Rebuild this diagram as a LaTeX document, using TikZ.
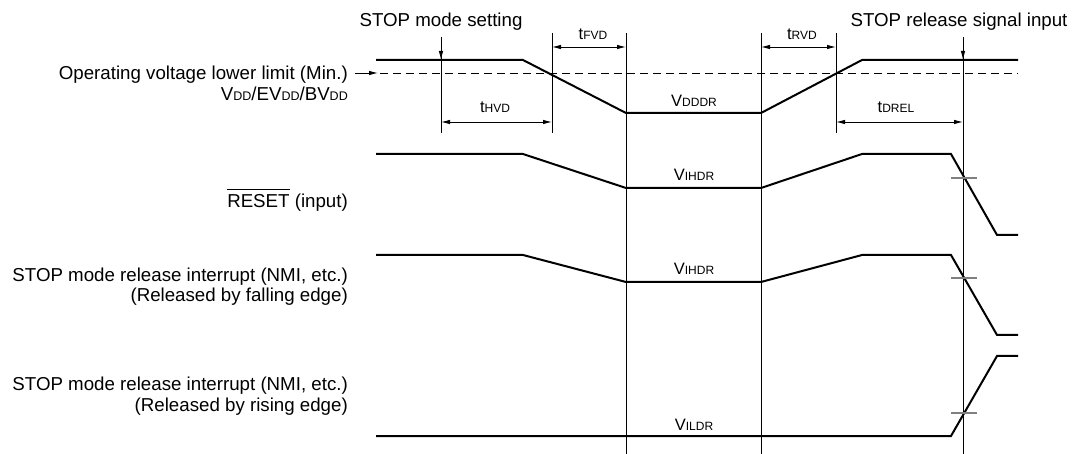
\documentclass[tikz,border=0pt]{standalone}
\usepackage{fontspec}
\setmainfont{Liberation Sans}
\usetikzlibrary{arrows.meta}

\newcommand{\msub}[1]{{\fontsize{12.5}{12.5}\selectfont #1}}
\newcommand{\vsub}[1]{{\fontsize{12}{12}\selectfont #1}}
\newcommand{\ovbar}[1]{\vbox{\hrule height 0.8pt\kern 5pt\hbox{#1}}}

\tikzset{
  sig/.style={line width=2pt},
  guide/.style={line width=0.9pt},
  dimarrow/.style={line width=0.9pt,{Latex[length=9pt,width=4.5pt]}-{Latex[length=9pt,width=4.5pt]}},
  arr/.style={line width=0.9pt,-{Latex[length=9pt,width=4.5pt]}},
  tickln/.style={line width=1.2pt,gray},
  lbl/.style={font=\fontsize{18.7}{20}\selectfont,inner sep=0pt},
  val/.style={font=\fontsize{16.5}{16.5}\selectfont,inner sep=0pt,anchor=base},
}

\begin{document}
\begin{tikzpicture}[x=1pt,y=-1pt]
  \useasboundingbox (0,0) rectangle (1074,454);
  % top labels
  \node[lbl,anchor=base] (stopset) at (441,27) {STOP mode setting};
  \node[lbl,anchor=base] (stoprel) at (959,27) {STOP release signal input};
  % left labels
  \node[lbl,anchor=base east] (oplim) at (348,80) {Operating voltage lower limit (Min.)};
  \node[lbl,anchor=base east] (vdd) at (348,101) {V\msub{DD}/EV\msub{DD}/BV\msub{DD}};
  \node[lbl,anchor=base east] (reset) at (348,208) {\ovbar{RESET} (input)};
  \node[lbl,anchor=base east] (nmifall) at (348,282) {STOP mode release interrupt (NMI, etc.)};
  \node[lbl,anchor=base east] (fallnote) at (348,302) {(Released by falling edge)};
  \node[lbl,anchor=base east] (nmirise) at (348,391) {STOP mode release interrupt (NMI, etc.)};
  \node[lbl,anchor=base east] (risenote) at (348,411) {(Released by rising edge)};
  % timing labels
  \node[val] (thvd) at (495,113) {t\vsub{HVD}};
  \node[val] (tfvd) at (593,40) {t\vsub{FVD}};
  \node[val] (trvd) at (802,40) {t\vsub{RVD}};
  \node[val] (tdrel) at (896,113) {t\vsub{DREL}};
  \node[val] (vdddr) at (694,107) {V\vsub{DDDR}};
  \node[val] (vihdra) at (694,181) {V\vsub{IHDR}};
  \node[val] (vihdrb) at (694,275) {V\vsub{IHDR}};
  \node[val] (vildr) at (694,430) {V\vsub{ILDR}};
  % guide lines
  \draw[guide] (441,37) -- (441,133);
  \draw[guide] (552,33) -- (552,133);
  \draw[guide] (626,33) -- (626,454);
  \draw[guide] (761,33) -- (761,454);
  \draw[guide] (836,33) -- (836,133);
  \draw[guide] (963,37) -- (963,454);
  \draw[arr] (441,37) -- (441,60);
  \draw[arr] (963,37) -- (963,60);
  % lower limit
  \draw[guide,dash pattern=on 8pt off 5pt] (380,73) -- (1018,73);
  \draw[arr] (355,73) -- (378,73);
  % dimensions
  \draw[dimarrow] (441,122) -- (552,122);
  \draw[dimarrow] (552,47) -- (626,47);
  \draw[dimarrow] (761,47) -- (836,47);
  \draw[dimarrow] (836,122) -- (963,122);
  % signals
  \draw[sig] (376,60) -- (523,60) -- (626,113) -- (761,113) -- (862,60) -- (1018,60);
  \draw[sig] (376,154) -- (523,154) -- (626,188) -- (761,188) -- (862,154) -- (951,154) -- (997,235) -- (1018,235);
  \draw[sig] (376,255) -- (523,255) -- (626,282) -- (761,282) -- (862,255) -- (951,255) -- (997,335) -- (1018,335);
  \draw[sig] (376,436) -- (951,436) -- (997,356) -- (1018,356);
  % threshold ticks
  \draw[tickln] (951,178) -- (977,178);
  \draw[tickln] (951,278) -- (977,278);
  \draw[tickln] (951,413) -- (977,413);
\end{tikzpicture}
\end{document}
